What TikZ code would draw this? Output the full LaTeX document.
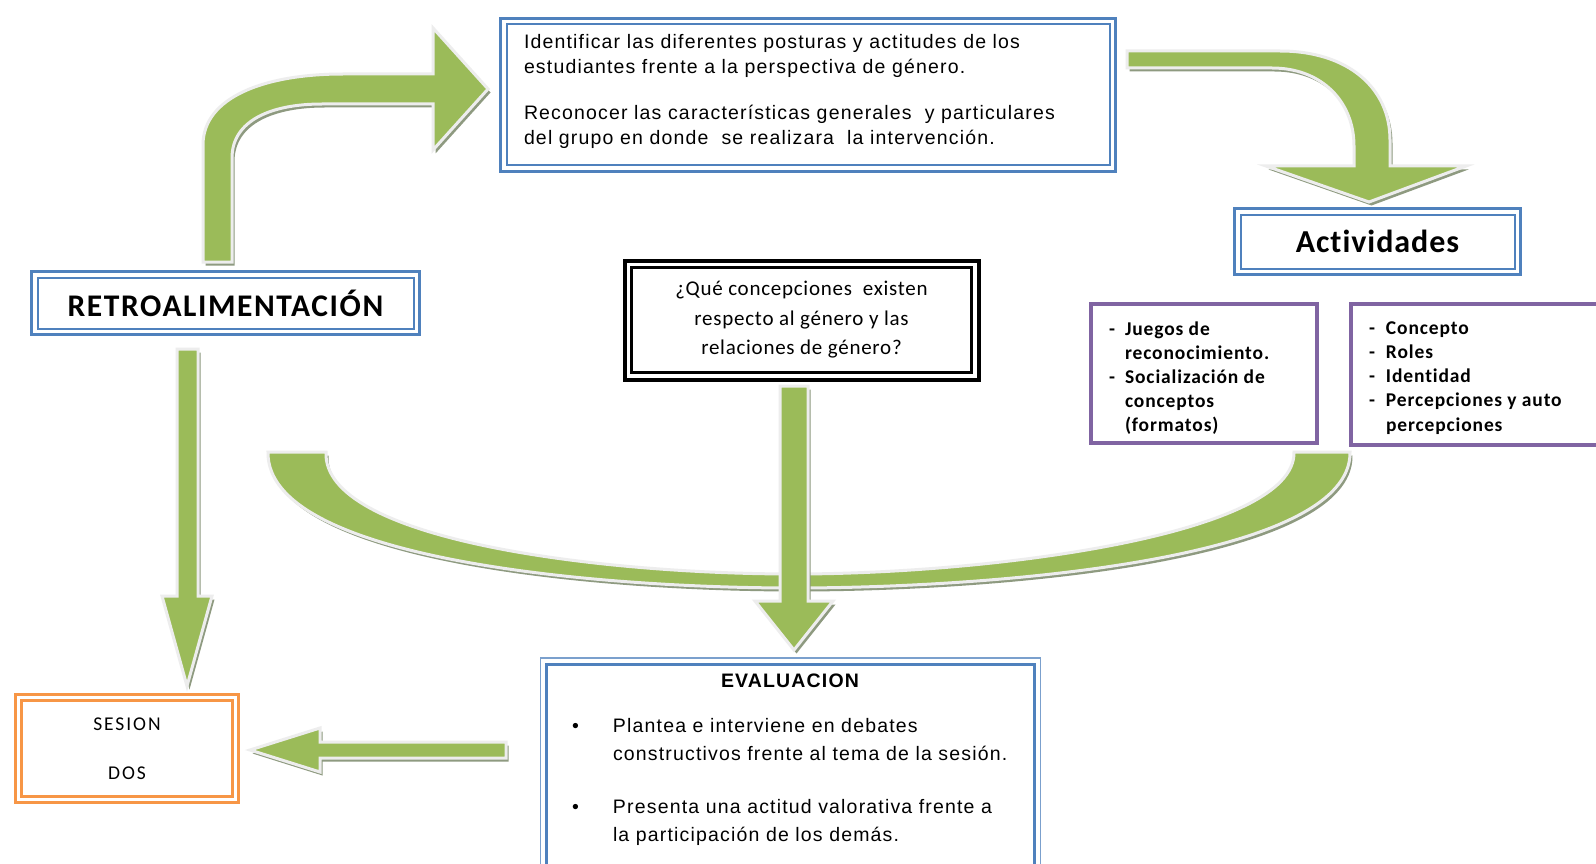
\documentclass[tikz,border=0pt]{standalone}
\usepackage{fontspec}
\setmainfont{Liberation Sans}
\newfontfamily\tah[LetterSpace=6]{Liberation Sans}
\newfontfamily\calq[LetterSpace=3.5,Ligatures=NoCommon]{Carlito}
\newfontfamily\calb[LetterSpace=3,Ligatures=NoCommon]{Carlito}
\newfontfamily\calr[LetterSpace=5,Ligatures=NoCommon]{Carlito}
\newfontfamily\calp[LetterSpace=4.5,Ligatures=NoCommon]{Carlito}
\newfontfamily\cals[LetterSpace=10,Ligatures=NoCommon]{Carlito}
\usetikzlibrary{calc}
\definecolor{oblue}{HTML}{4F81BD}
\definecolor{opurple}{HTML}{8064A2}
\definecolor{oorange}{HTML}{F79646}
\definecolor{ogreen}{HTML}{9BBB59}
\definecolor{gshade}{HTML}{8E9A80}
\newcommand\dframe[4]{\draw[#3, line width=#4] ([xshift=#2pt,yshift=-#2pt]#1.north west) rectangle ([xshift=-#2pt,yshift=#2pt]#1.south east);}
\newcommand\garrow[1]{\fill[arrowshadow, shift={(2.5,3.5)}] #1; \filldraw[arrowbody] #1;}
\tikzset{
  box/.style={rectangle, inner sep=0pt, outer sep=0pt},
  bluebox/.style={box, draw=oblue, line width=3.5pt},
  purplebox/.style={box, draw=opurple, line width=3.5pt},
  orangebox/.style={box, draw=oorange, line width=3.5pt},
  blackbox/.style={box, draw=black, line width=4pt},
  txt/.style={inner sep=0pt, outer sep=0pt},
  arrowbody/.style={fill=ogreen, draw=white!93!black, line width=3pt, line join=miter},
  arrowshadow/.style={fill=gshade},
}
\begin{document}
\begin{tikzpicture}[x=1pt, y=-1pt]
\useasboundingbox (0,0) rectangle (1596,864);
\clip (0,0) rectangle (1596,864);
\fill[white] (0,0) rectangle (1596,864);

% boxes
\node[bluebox, minimum width=615pt, minimum height=153pt] (goal) at (808,95) {};
\dframe{goal}{6}{oblue}{2pt}
\node[txt, anchor=base west] (goalText) at (524,49) {\parbox[t]{580pt}{\tah\fontsize{19.5}{25}\selectfont
Identificar las diferentes posturas y actitudes de los\\
estudiantes frente a la perspectiva de género.\\[21pt]
Reconocer las características generales\ \ y particulares\\
del grupo en donde\ \ se realizara\ \ la intervención.}};

\node[bluebox, minimum width=286pt, minimum height=66pt, font=\calb\bfseries\fontsize{32}{32}\selectfont] (act) at (1377.5,241.5) {Actividades};
\dframe{act}{6}{oblue}{2pt}

\node[bluebox, minimum width=388pt, minimum height=63pt, font=\calr\bfseries\fontsize{31.5}{31.5}\selectfont] (retro) at (225.5,303) {RETROALIMENTACIÓN};
\dframe{retro}{6}{oblue}{2pt}

\node[blackbox, minimum width=354pt, minimum height=119pt, align=center, font=\calq\fontsize{21}{29.5}\selectfont] (question) at (801.5,320) {¿Qué concepciones\ \ existen\\ respecto al género y las\\ relaciones de género?};
\dframe{question}{7}{black}{2.5pt}

\node[purplebox, minimum width=226pt, minimum height=139pt] (listA) at (1204,373.5) {};
\node[txt, anchor=base west] (listAText) at (1109,335) {\parbox[t]{200pt}{\calp\bfseries\fontsize{19.5}{24.2}\selectfont
\makebox[16pt][l]{-}Juegos de\\
\hspace*{16pt}reconocimiento.\\
\makebox[16pt][l]{-}Socialización de\\
\hspace*{16pt}conceptos\\
\hspace*{16pt}(formatos)}};

\node[purplebox, minimum width=289pt, minimum height=141pt] (listB) at (1495.5,374.5) {};
\node[txt, anchor=base west] (listBText) at (1369,334) {\parbox[t]{220pt}{\calp\bfseries\fontsize{19.5}{24.3}\selectfont
\makebox[17pt][l]{-}Concepto\\
\makebox[17pt][l]{-}Roles\\
\makebox[17pt][l]{-}Identidad\\
\makebox[17pt][l]{-}Percepciones y auto\\
\hspace*{17pt}percepciones}};

\node[orangebox, minimum width=223pt, minimum height=108pt, align=center, font=\cals\fontsize{19.5}{49}\selectfont] (sesion) at (127,748.5) {SESION\\DOS};
\dframe{sesion}{6}{oorange}{2.5pt}

\node[box, draw=oblue!75, line width=1.8pt, minimum width=500pt, minimum height=242pt] (eval) at (790.5,779) {};
\dframe{eval}{6}{oblue}{3pt}
\node[txt, anchor=base] (evalTitle) at (790,687) {\tah\bfseries\fontsize{19.5}{24}\selectfont EVALUACION};
\node[txt, anchor=base west] (evalText) at (572,732) {\parbox[t]{460pt}{\tah\fontsize{19.5}{28}\selectfont
\makebox[41pt][l]{\textbullet}Plantea e interviene en debates\\
\hspace*{41pt}constructivos frente al tema de la sesión.\\[25pt]
\makebox[41pt][l]{\textbullet}Presenta una actitud valorativa frente a\\
\hspace*{41pt}la participación de los demás.}};

% block arrows
\garrow{(203,262) -- (203,145) .. controls (203,97) and (265,74) .. (343,74) -- (433,74) -- (433,28) -- (488,89) -- (433,150) -- (433,104) -- (322,104) .. controls (272,104) and (232,120) .. (232,158) -- (232,262) -- cycle}
\garrow{(1127,51) -- (1280,51) .. controls (1348,51) and (1390,88) .. (1390,140) -- (1390,166) -- (1466,166) -- (1369,202) -- (1266,166) -- (1354,166) -- (1354,146) .. controls (1354,102) and (1322,68) .. (1272,68) -- (1127,68) -- cycle}
\garrow{(268,452) .. controls (266,560) and (600,588) .. (794,588) .. controls (990,588) and (1352,560) .. (1350,452) -- (1294,452) .. controls (1296,535) and (990,574) .. (794,574) .. controls (600,574) and (322,540) .. (326,452) -- cycle}
\garrow{(780,386) -- (808,386) -- (808,601) -- (833,601) -- (794,650) -- (755,601) -- (780,601) -- cycle}
\garrow{(177,349) -- (198,349) -- (198,596) -- (212,596) -- (187,686) -- (162,596) -- (177,596) -- cycle}
\garrow{(506,742) -- (320,742) -- (320,728) -- (250,750) -- (320,772) -- (320,758) -- (506,758) -- cycle}
\end{tikzpicture}
\end{document}
